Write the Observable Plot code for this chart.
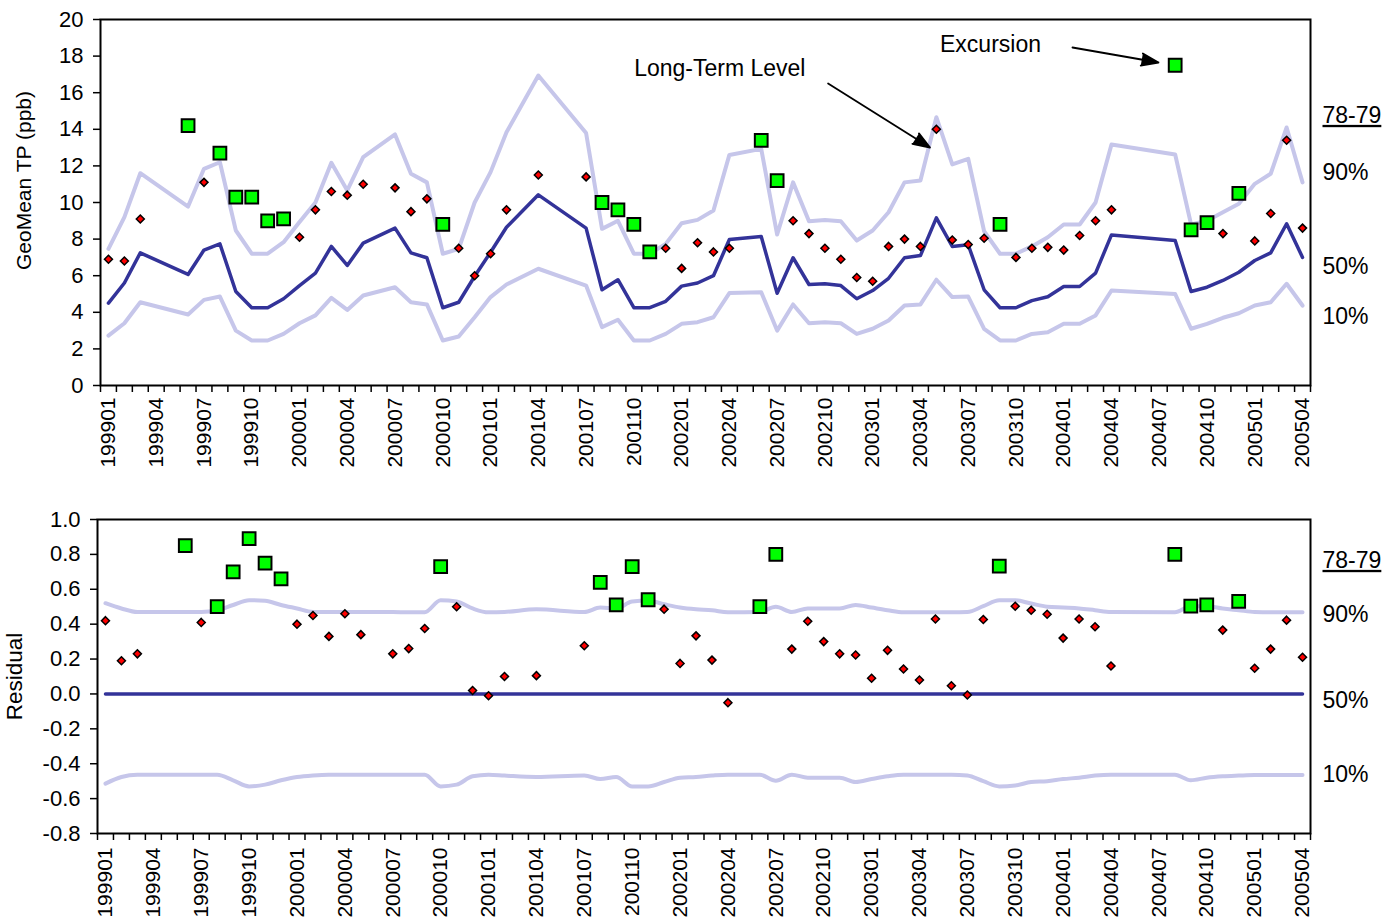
<!DOCTYPE html>
<html><head><meta charset="utf-8">
<script src="https://cdn.jsdelivr.net/npm/d3@7"></script>
<script src="https://cdn.jsdelivr.net/npm/@observablehq/plot@0.6"></script>
<style>
html,body{margin:0;padding:0;background:#fff;overflow:hidden}
#chart{width:1384px;height:922px;position:relative;font-family:"Liberation Sans",Arial,sans-serif}
#chart svg{display:block}
</style></head><body><div id="chart"></div>
<script>
// ---- categories ----
const months = [
 "199901","199902","199903","199904","199905","199906","199907","199908","199909","199910","199911","199912",
 "200001","200002","200003","200004","200005","200006","200007","200008","200009","200010","200011","200012",
 "200101","200102","200103","200104","200105","200106","200107","200108","200109","200110","200111","200112",
 "200201","200202","200203","200204","200205","200206","200207","200208","200209","200210","200211","200212",
 "200301","200302","200303","200304","200305","200306","200307","200308","200309","200310","200311","200312",
 "200401","200402","200403","200404","200405","200406","200407","200408","200409","200410","200411","200412",
 "200501","200502","200503","200504"];
const tickMonths = ["199901","199904","199907","199910","200001","200004","200007","200010","200101","200104",
 "200107","200110","200201","200204","200207","200210","200301","200304","200307","200310","200401","200404",
 "200407","200410","200501","200504"];
const excursionMonths = ["199906","199908","199909","199910","199911","199912","200010","200108","200109",
 "200110","200111","200206","200207","200309","200408","200409","200410","200412"];

// ---- top panel series (GeoMean TP, ppb) ----
const obs = [6.9, 6.8, 9.1, null, null, 14.2, 11.1, 12.7, 10.3, 10.3, 9.0, 9.1,
 8.1, 9.6, 10.6, 10.4, 11.0, null, 10.8, 9.5, 10.2, 8.8, 7.5, 6.0,
 7.2, 9.6, null, 11.5, null, null, 11.4, 10.0, 9.6, 8.8, 7.3, 7.5,
 6.4, 7.8, 7.3, 7.5, null, 13.4, 11.2, 9.0, 8.3, 7.5, 6.9, 5.9,
 5.7, 7.6, 8.0, 7.6, 14.0, 7.95, 7.7, 8.05, 8.8, 7.0, 7.5, 7.55,
 7.4, 8.2, 9.0, 9.6, null, null, null, 17.5, 8.5, 8.9, 8.3, 10.5,
 7.9, 9.4, 13.4, 8.6];
const p50 = [4.5, 5.6, 7.25, null, null, 6.07, 7.4, 7.74, 5.14, 4.25, 4.25, 4.74,
 5.46, 6.14, 7.6, 6.56, 7.78, null, 8.6, 7.25, 6.98, 4.25, 4.55, 5.97,
 7.28, 8.65, null, 10.42, null, null, 8.6, 5.23, 5.78, 4.25, 4.25, 4.6,
 5.43, 5.6, 6.0, 7.98, null, 8.14, 5.04, 6.98, 5.52, 5.56, 5.46, 4.74,
 5.19, 5.86, 6.98, 7.1, 9.16, 7.6, 7.69, 5.23, 4.25, 4.25, 4.64, 4.85,
 5.41, 5.41, 6.14, 8.23, null, null, null, 7.92, 5.14, 5.37, 5.74, 6.19,
 6.83, 7.25, 8.84, 7.0];
const p90 = [7.47, 9.2, 11.6, null, null, 9.78, 11.84, 12.2, 8.47, 7.2, 7.2, 7.83,
 8.93, 10.0, 12.17, 10.66, 12.48, null, 13.72, 11.57, 11.1, 7.2, 7.47, 10.0,
 11.66, 13.84, null, 16.94, null, null, 13.8, 8.56, 9.0, 7.2, 7.2, 7.74,
 8.87, 9.05, 9.56, 12.6, null, 12.93, 8.25, 11.1, 8.98, 9.05, 8.98, 7.92,
 8.47, 9.47, 11.1, 11.2, 14.66, 12.08, 12.39, 8.43, 7.2, 7.2, 7.6, 8.1,
 8.8, 8.8, 10.0, 13.17, null, null, null, 12.62, 8.8, 9.0, 9.47, 9.93,
 11.02, 11.57, 14.1, 11.1];
const p10 = [2.73, 3.4, 4.55, null, null, 3.88, 4.68, 4.86, 3.0, 2.46, 2.46, 2.82,
 3.4, 3.83, 4.79, 4.13, 4.92, null, 5.37, 4.55, 4.43, 2.46, 2.68, 3.73,
 4.83, 5.52, null, 6.38, null, null, 5.46, 3.19, 3.59, 2.46, 2.46, 2.82,
 3.37, 3.46, 3.73, 5.05, null, 5.1, 3.0, 4.43, 3.4, 3.46, 3.4, 2.82,
 3.1, 3.55, 4.37, 4.43, 5.78, 4.83, 4.86, 3.1, 2.46, 2.46, 2.82, 2.91,
 3.37, 3.37, 3.83, 5.19, null, null, null, 5.0, 3.1, 3.37, 3.7, 3.95,
 4.37, 4.55, 5.56, 4.37];

// ---- bottom panel series (Residual) ----
const resid = [0.42, 0.19, 0.23, null, null, 0.85, 0.41, 0.50, 0.70, 0.89, 0.75, 0.66,
 0.40, 0.45, 0.33, 0.46, 0.34, null, 0.23, 0.26, 0.375, 0.73, 0.50, 0.02,
 -0.01, 0.10, null, 0.105, null, null, 0.276, 0.64, 0.51, 0.73, 0.54, 0.486,
 0.175, 0.333, 0.194, -0.05, null, 0.50, 0.80, 0.257, 0.417, 0.30, 0.23, 0.223,
 0.09, 0.25, 0.143, 0.08, 0.43, 0.047, -0.006, 0.427, 0.733, 0.503, 0.48, 0.457,
 0.32, 0.43, 0.385, 0.16, null, null, null, 0.80, 0.503, 0.51, 0.366, 0.53,
 0.147, 0.257, 0.423, 0.21];
const r90 = [0.52, 0.49, 0.47, null, null, 0.47, 0.47, 0.48, 0.51, 0.537, 0.534, 0.51,
 0.49, 0.47, 0.47, 0.47, 0.47, null, 0.47, 0.468, 0.468, 0.537, 0.53, 0.49,
 0.468, 0.47, null, 0.485, null, null, 0.47, 0.495, 0.49, 0.53, 0.535, 0.514,
 0.495, 0.485, 0.48, 0.468, null, 0.47, 0.5, 0.47, 0.49, 0.49, 0.49, 0.51,
 0.495, 0.48, 0.468, 0.468, 0.468, 0.468, 0.47, 0.503, 0.537, 0.537, 0.518, 0.5,
 0.495, 0.49, 0.48, 0.47, null, null, null, 0.468, 0.503, 0.503, 0.49, 0.48,
 0.47, 0.468, 0.468, 0.468];
const r10 = [-0.514, -0.476, -0.463, null, null, -0.463, -0.463, -0.463, -0.495, -0.53, -0.52, -0.495,
 -0.476, -0.467, -0.463, -0.463, -0.463, null, -0.463, -0.463, -0.463, -0.53, -0.52, -0.472,
 -0.463, -0.468, null, -0.476, null, null, -0.467, -0.488, -0.476, -0.53, -0.53, -0.505,
 -0.48, -0.476, -0.468, -0.463, null, -0.463, -0.497, -0.463, -0.48, -0.48, -0.48, -0.505,
 -0.488, -0.472, -0.463, -0.463, -0.463, -0.463, -0.468, -0.5, -0.53, -0.525, -0.505, -0.5,
 -0.488, -0.48, -0.468, -0.463, null, null, null, -0.463, -0.495, -0.48, -0.472, -0.468,
 -0.465, -0.465, -0.465, -0.465];
const residLevel = 0;

// ---- tick labels / texts ----
const yTicksTop = [0, 2, 4, 6, 8, 10, 12, 14, 16, 18, 20];
const yTicksBottom = [-0.8, -0.6, -0.4, -0.2, 0.0, 0.2, 0.4, 0.6, 0.8, 1.0];
const sideLabels = ["78-79", "90%", "50%", "10%"];
const yTitleTop = "GeoMean TP (ppb)";
const yTitleBottom = "Residual";
const notes = [
  {month: "200203", shift: 0.4, v: 17.3, label: "Long-Term Level"},
  {month: "200308", shift: 0.4, v: 18.6, label: "Excursion"}
];
const pointers = [
  {from: "200210", fromV: 16.5, to: "200304", toV: 13.0, fromShift: 0.2, toShift: 0.6},
  {from: "200401", fromV: 18.47, to: "200406", toV: 17.65, fromShift: 0.55, toShift: 0.95}
];

// ---- build table ----
const rows = months.map((m, i) => ({i, month: m, obs: obs[i], p50: p50[i], p90: p90[i], p10: p10[i],
  resid: resid[i], r90: r90[i], r10: r10[i]})).filter(d => d.obs != null);
const isExc = d => excursionMonths.includes(d.month);
const idx = m => months.indexOf(m);

const FONT = '"Liberation Sans", Arial, sans-serif';
const bandColor = "#c6c6ea";
const medColor = "#333399";
const boundaries = d3.range(months.length + 1).map(k => k - 0.5);
const labelIdx = tickMonths.map(idx);

function xAxes(pad) {
  return [
    Plot.axisX({ticks: boundaries, tickSize: 7, tickFormat: () => "", label: null, strokeWidth: 1.5}),
    Plot.axisX({ticks: labelIdx, tickSize: 0, tickPadding: pad, tickRotate: -90,
      tickFormat: i => months[i], fontSize: 21, label: null})
  ];
}
function sideText(offsets) {
  return sideLabels.map((t, k) => Plot.text([t], {frameAnchor: "top-right", dx: 12, dy: offsets[k],
    textAnchor: "start", lineAnchor: "middle", fontSize: 23}));
}
function points(yKey) {
  return [
    Plot.dot(rows.filter(d => !isExc(d)), {x: "i", y: yKey, symbol: "diamond2", r: 3.6,
      fill: "#ff0000", stroke: "black", strokeWidth: 1.5}),
    Plot.dot(rows.filter(isExc), {x: "i", y: yKey, symbol: "square", r: 7.2,
      fill: "#00ff00", stroke: "black", strokeWidth: 2})
  ];
}
const xScale = {type: "linear", domain: [-0.5, months.length - 0.5], label: null};
const style = {fontFamily: FONT, color: "black", background: "white", overflow: "visible"};

const topPlot = Plot.plot({
  width: 1384, height: 480,
  marginLeft: 100, marginRight: 74, marginTop: 19, marginBottom: 95,
  style, x: xScale, y: {domain: [0, 20], label: null},
  marks: [
    Plot.line(rows, {x: "i", y: "p90", stroke: bandColor, strokeWidth: 4}),
    Plot.line(rows, {x: "i", y: "p10", stroke: bandColor, strokeWidth: 4}),
    Plot.line(rows, {x: "i", y: "p50", stroke: medColor, strokeWidth: 3.5}),
    ...points("obs"),
    Plot.frame({stroke: "black", strokeWidth: 2}),
    Plot.axisY({ticks: yTicksTop, tickSize: 7, tickPadding: 10, fontSize: 22, label: null, strokeWidth: 1.5}),
    ...xAxes(12),
    Plot.text([yTitleTop], {frameAnchor: "left", dx: -76, dy: -22, rotate: -90, textAnchor: "middle", fontSize: 21}),
    ...sideText([96, 153, 247, 297]),
    Plot.text(notes, {x: d => idx(d.month) + d.shift, y: "v", text: "label", fontSize: 23}),
    Plot.arrow(pointers, {x1: d => idx(d.from) + d.fromShift, y1: "fromV", x2: d => idx(d.to) + d.toShift, y2: "toV",
      stroke: "black", fill: "black", strokeWidth: 1.8, headLength: 15, headAngle: 40})
  ]
});

const bottomPlot = Plot.plot({
  width: 1384, height: 442,
  marginLeft: 97, marginRight: 74, marginTop: 39, marginBottom: 89,
  style, x: xScale, y: {domain: [-0.8, 1.0], label: null},
  marks: [
    Plot.line(rows, {x: "i", y: "r90", curve: "monotone-x", stroke: bandColor, strokeWidth: 4}),
    Plot.line(rows, {x: "i", y: "r10", curve: "monotone-x", stroke: bandColor, strokeWidth: 4}),
    Plot.line(rows, {x: "i", y: () => residLevel, stroke: medColor, strokeWidth: 3.5}),
    ...points("resid"),
    Plot.frame({stroke: "black", strokeWidth: 2}),
    Plot.axisY({ticks: yTicksBottom, tickFormat: d => d.toFixed(1), tickSize: 7, tickPadding: 10,
      fontSize: 22, label: null, strokeWidth: 1.5}),
    ...xAxes(14),
    Plot.text([yTitleBottom], {frameAnchor: "left", dx: -83, rotate: -90, textAnchor: "middle", fontSize: 22.5}),
    ...sideText([41, 95, 181, 255])
  ]
});

const chart = document.getElementById("chart");
chart.append(topPlot, bottomPlot);
chart.querySelectorAll("text").forEach(t => {
  if (t.textContent === "78-79") t.setAttribute("text-decoration", "underline");
});
</script></body></html>
